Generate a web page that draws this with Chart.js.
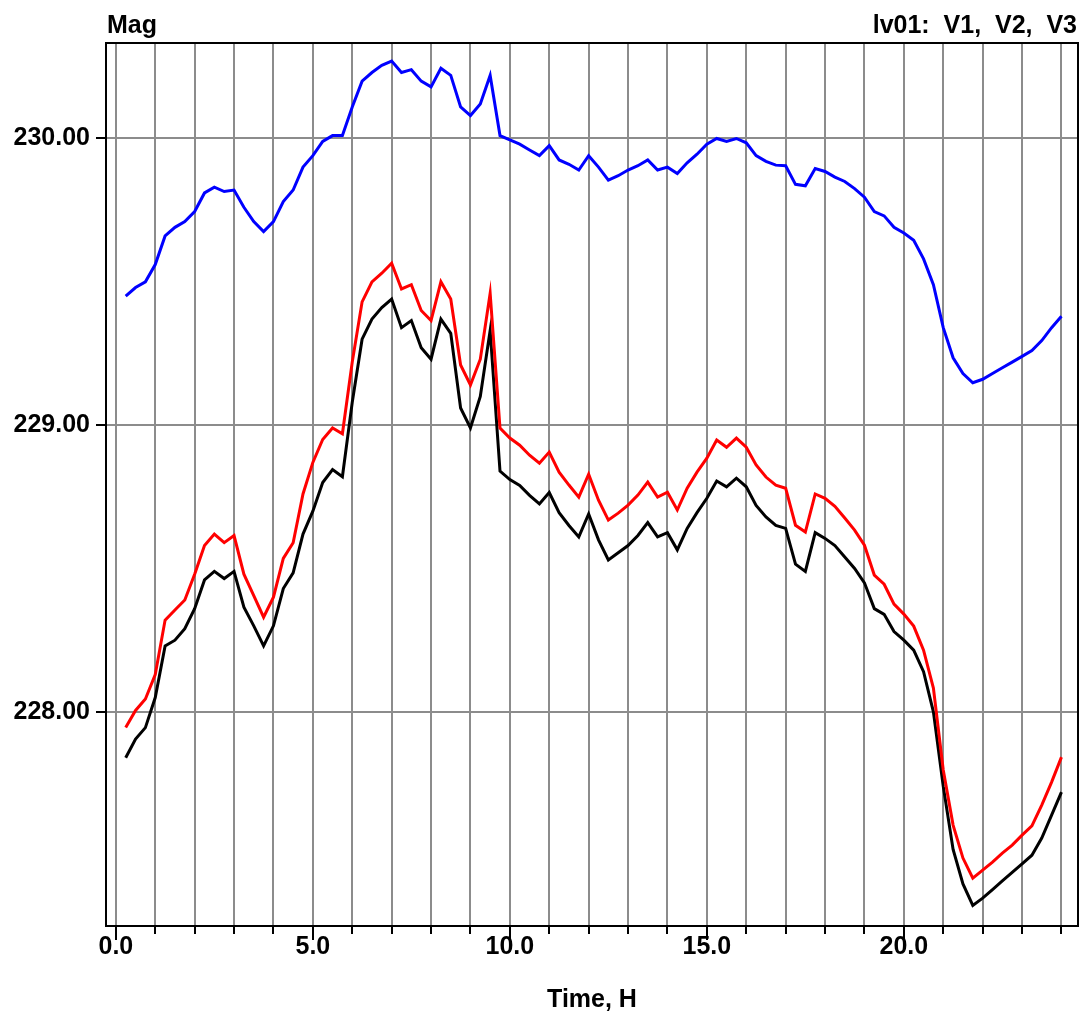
<!DOCTYPE html>
<html>
<head>
<meta charset="utf-8">
<title>Mag lv01</title>
<script src="https://cdn.jsdelivr.net/npm/chart.js@4.4.1/dist/chart.umd.min.js"></script>
<style>
  html, body { margin: 0; padding: 0; background: #fff; }
  #wrap { width: 1086px; height: 1022px; position: relative; }
</style>
</head>
<body>
<div id="wrap"><canvas id="magChart"></canvas></div>
<script>
// ─── Data (15-min steps) ────────────────────────────────────────
const hours = [
    0.25, 0.5, 0.75, 1, 1.25, 1.5, 1.75, 2,
    2.25, 2.5, 2.75, 3, 3.25, 3.5, 3.75, 4,
    4.25, 4.5, 4.75, 5, 5.25, 5.5, 5.75, 6,
    6.25, 6.5, 6.75, 7, 7.25, 7.5, 7.75, 8,
    8.25, 8.5, 8.75, 9, 9.25, 9.5, 9.75, 10,
    10.25, 10.5, 10.75, 11, 11.25, 11.5, 11.75, 12,
    12.25, 12.5, 12.75, 13, 13.25, 13.5, 13.75, 14,
    14.25, 14.5, 14.75, 15, 15.25, 15.5, 15.75, 16,
    16.25, 16.5, 16.75, 17, 17.25, 17.5, 17.75, 18,
    18.25, 18.5, 18.75, 19, 19.25, 19.5, 19.75, 20,
    20.25, 20.5, 20.75, 21, 21.25, 21.5, 21.75, 22,
    22.25, 22.5, 22.75, 23, 23.25, 23.5, 23.75, 24
];

const v1 = [
    229.45, 229.48, 229.50, 229.56, 229.66, 229.69, 229.71, 229.745,
    229.81, 229.83, 229.815, 229.82, 229.76, 229.71, 229.675, 229.71,
    229.78, 229.82, 229.90, 229.94, 229.99, 230.01, 230.01, 230.11,
    230.20, 230.23, 230.255, 230.27, 230.23, 230.24, 230.20, 230.18,
    230.245, 230.22, 230.11, 230.08, 230.12, 230.22, 230.01, 229.995,
    229.98, 229.96, 229.94, 229.975, 229.925, 229.91, 229.89, 229.94,
    229.90, 229.855, 229.87, 229.89, 229.905, 229.925, 229.89, 229.90,
    229.878, 229.915, 229.945, 229.98, 230.0, 229.99, 230.0, 229.985,
    229.94, 229.92, 229.907, 229.905, 229.84, 229.835, 229.895, 229.885,
    229.865, 229.85, 229.825, 229.795, 229.745, 229.73, 229.69, 229.67,
    229.645, 229.58, 229.49, 229.34, 229.235, 229.18, 229.148, 229.16,
    229.18, 229.20, 229.22, 229.24, 229.26, 229.295, 229.34, 229.38
];

const v2 = [
    227.945, 228.005, 228.045, 228.13, 228.32, 228.355, 228.39, 228.48,
    228.58, 228.62, 228.59, 228.615, 228.48, 228.405, 228.33, 228.40,
    228.535, 228.59, 228.76, 228.87, 228.95, 228.99, 228.97, 229.22,
    229.43, 229.50, 229.53, 229.565, 229.475, 229.49, 229.40, 229.365,
    229.50, 229.44, 229.21, 229.14, 229.23, 229.46, 228.99, 228.955,
    228.93, 228.895, 228.867, 228.906, 228.836, 228.791, 228.749, 228.829,
    228.738, 228.669, 228.693, 228.721, 228.756, 228.801, 228.749, 228.766,
    228.704, 228.78, 228.836, 228.885, 228.948, 228.923, 228.955, 228.923,
    228.861, 228.819, 228.791, 228.78, 228.651, 228.627, 228.76, 228.745,
    228.717, 228.676, 228.634, 228.581, 228.477, 228.445, 228.376, 228.341,
    228.299, 228.215, 228.083, 227.797, 227.605, 227.49, 227.42, 227.448,
    227.476, 227.507, 227.535, 227.57, 227.602, 227.675, 227.755, 227.842
];

const v3 = [
    227.84, 227.905, 227.945, 228.05, 228.23, 228.25, 228.29, 228.36,
    228.46, 228.49, 228.465, 228.49, 228.365, 228.30, 228.23, 228.30,
    228.43, 228.485, 228.62, 228.70, 228.80, 228.845, 228.82, 229.08,
    229.30, 229.37, 229.41, 229.44, 229.34, 229.365, 229.27, 229.23,
    229.37, 229.32, 229.06, 228.99, 229.10, 229.33, 228.84, 228.81,
    228.79, 228.755, 228.725, 228.765, 228.695, 228.65, 228.61, 228.69,
    228.60, 228.53, 228.555, 228.58, 228.615, 228.66, 228.61, 228.625,
    228.565, 228.64, 228.695, 228.745, 228.805, 228.785, 228.815, 228.785,
    228.72, 228.68, 228.65, 228.64, 228.515, 228.49, 228.625, 228.605,
    228.58, 228.54, 228.50, 228.45, 228.36, 228.34, 228.28, 228.25,
    228.215, 228.14, 228.00, 227.74, 227.52, 227.40, 227.325, 227.35,
    227.38, 227.41, 227.44, 227.47, 227.50, 227.56, 227.64, 227.72
];

const xMajorTicks = [0, 5, 10, 15, 20];
const yTicks = [228, 229, 230];

// ─── Helpers ────────────────────────────────────────────────────
const FONT = { family: '"Liberation Sans", Arial, sans-serif', size: 25, weight: 'bold' };
const GRID = '#8c8c8c';

function toPoints(values) {
    return hours.map((h, i) => ({ x: h, y: values[i] }));
}

function series(values, color) {
    return {
        data: toPoints(values),
        borderColor: color,
        borderWidth: 3,
        pointRadius: 0,
        tension: 0,
        fill: false
    };
}

// header texts, frame and x tick marks
const decor = {
    id: 'decor',
    afterDraw(chart) {
        const { ctx, chartArea: a, scales: { x } } = chart;
        ctx.save();
        ctx.strokeStyle = '#000';
        ctx.lineWidth = 2;
        ctx.strokeRect(a.left, a.top, a.right - a.left, a.bottom - a.top);

        ctx.beginPath();
        x.ticks.forEach(t => {
            const px = Math.round(x.getPixelForValue(t.value));
            const len = xMajorTicks.includes(t.value) ? 14 : 8;
            ctx.moveTo(px, a.bottom);
            ctx.lineTo(px, a.bottom + len);
        });
        ctx.stroke();

        ctx.fillStyle = '#000';
        ctx.font = 'bold 25px "Liberation Sans", Arial, sans-serif';
        ctx.textBaseline = 'alphabetic';
        ctx.textAlign = 'left';
        ctx.fillText('Mag', 107, 33);
        ctx.textAlign = 'right';
        ctx.fillText('lv01:  V1,  V2,  V3', 1077, 33);
        ctx.restore();
    }
};

// ─── Chart ──────────────────────────────────────────────────────
new Chart(document.getElementById('magChart'), {
    type: 'line',
    data: {
        datasets: [
            series(v1, '#0000ff'),
            series(v2, '#ff0000'),
            series(v3, '#000000')
        ]
    },
    options: {
        responsive: true,
        maintainAspectRatio: false,
        animation: false,
        layout: { padding: { top: 43, right: 8, left: 0, bottom: 0 } },
        plugins: { legend: { display: false }, tooltip: { enabled: false } },
        scales: {
            x: {
                type: 'linear',
                min: -0.25,
                max: 24.42,
                afterFit: s => { s.height = 96; },
                grid: { color: GRID, lineWidth: 2, drawTicks: false },
                border: { display: true, color: '#000', width: 2 },
                ticks: {
                    stepSize: 1,
                    includeBounds: false,
                    autoSkip: false,
                    maxRotation: 0,
                    padding: 6,
                    color: '#000',
                    font: FONT,
                    callback: v => xMajorTicks.includes(v) ? v.toFixed(1) : ''
                },
                title: {
                    display: true,
                    text: 'Time, H',
                    color: '#000',
                    font: FONT,
                    padding: { top: 0, bottom: 7 }
                }
            },
            y: {
                min: 227.253,
                max: 230.333,
                afterFit: s => { s.width = 106; },
                grid: { color: GRID, lineWidth: 2, tickColor: '#000', tickLength: 10, tickWidth: 2 },
                border: { display: true, color: '#000', width: 2 },
                afterBuildTicks: s => { s.ticks = yTicks.map(v => ({ value: v })); },
                ticks: {
                    padding: 6,
                    color: '#000',
                    font: FONT,
                    callback: v => v.toFixed(2)
                }
            }
        }
    },
    plugins: [decor]
});
</script>
</body>
</html>
